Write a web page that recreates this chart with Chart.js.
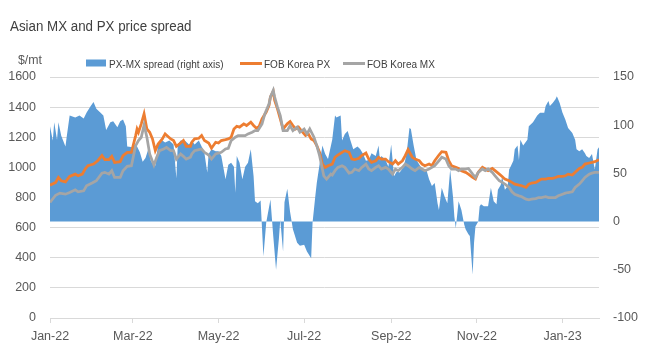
<!DOCTYPE html>
<html>
<head>
<meta charset="utf-8">
<script src="https://cdn.jsdelivr.net/npm/chart.js@4.4.0/dist/chart.umd.min.js"></script>
<style>
  html, body { margin: 0; padding: 0; background: #fff; }
</style>
</head>
<body>
<canvas id="myChart" width="652" height="353"></canvas>
<script>
// all x values are days counted from 1 Jan 2022
const tickDays = [0, 59, 120, 181, 243, 304, 365];
const tickLabels = ['Jan-22', 'Mar-22', 'May-22', 'Jul-22', 'Sep-22', 'Nov-22', 'Jan-23'];

// PX-MX spread, $/mt (right axis)
const spreadDays = [0, 2, 3, 5, 6, 8, 11, 12, 14, 18, 21, 24, 26, 29, 31, 33, 36, 38, 40, 43, 45, 48, 50, 52, 54, 55, 59,
  60, 62, 64, 66, 68, 70, 72, 75, 77, 80, 82, 85, 88, 90, 91, 93, 96, 99, 101, 103, 106, 108, 110, 112, 113, 115, 118,
  120, 122, 125, 127, 129, 131, 132, 133, 135, 137, 139, 141, 143, 145, 146, 148, 150, 152, 154, 157, 159, 161, 163,
  164, 166, 167, 169, 171, 173, 176, 178, 181, 183, 186, 187, 189, 190, 194, 196, 198, 201, 203, 204, 207, 208, 210,
  212, 214, 216, 219, 221, 223, 225, 227, 229, 232, 234, 235, 236, 239, 241, 243, 245, 247, 249, 252, 254, 256, 257,
  259, 261, 264, 266, 268, 270, 272, 274, 276, 277, 279, 281, 283, 285, 287, 288, 289, 291, 293, 295, 296, 298, 299,
  301, 302, 303, 305, 306, 307, 309, 312, 314, 315, 316, 318, 319, 321, 322, 324, 326, 327, 328, 330, 331, 333, 334,
  335, 337, 340, 341, 344, 347, 349, 352, 353, 355, 356, 358, 360, 361, 363, 365, 367, 369, 372, 374, 375, 377, 379,
  381, 382, 384, 386, 388, 390, 391];
const spreadValues = [99, 84, 103, 85, 103, 89, 78, 89, 110, 108, 110, 107, 113, 120, 124, 117, 113, 110, 95, 103, 104, 98, 104, 106, 99, 78, 77,
  80, 78, 72, 62, 66, 75, 62, 58, 80, 84, 82, 84, 80, 45, 80, 84, 84, 80, 84, 80, 84, 78, 71, 51, 70, 75, 73,
  73, 68, 44, 59, 61, 57, 30, 68, 61, 44, 57, 61, 75, 47, 21, 19, 22, -36, -1, 23, -15, -50, -18,
  2, -31, 20, 34, 10, -8, -22, -25, -24, -31, -38, -1, 27, 40, 79, 70, 65, 85, 110, 108, 110, 84, 91,
  94, 84, 75, 78, 75, 70, 63, 64, 71, 68, 79, 63, 68, 64, 57, 80, 47, 52, 51, 57, 71, 97, 96,
  79, 64, 57, 54, 54, 44, 37, 40, 19, 12, 35, 26, 19, 54, 26, 5, -7, 21, 12, -3, -8, -13, -15,
  -55, -22, -5, 0, 16, 18, 16, 16, 35, 28, 21, 18, 33, 38, 47, 33, 37, 54, 57, 63, 75, 79, 64,
  85, 79, 85, 99, 103, 110, 113, 113, 120, 125, 120, 123, 127, 130, 123, 113, 106, 97, 92, 85, 75, 73, 75,
  71, 68, 66, 70, 54, 75, 77];

// FOB Korea PX, $/mt
const pxDays = [0, 4, 6, 8, 11, 14, 18, 20, 23, 25, 27, 31, 34, 37, 39, 42, 44, 46, 50, 52, 55, 58, 61, 62, 63, 65, 67,
  69, 71, 73, 75, 77, 80, 82, 86, 88, 90, 93, 95, 97, 100, 101, 103, 106, 108, 110, 113, 115, 118, 120, 122, 125,
  127, 129, 131, 133, 135, 138, 140, 143, 145, 147, 149, 151, 154, 156, 157, 159, 160, 162, 164, 166, 169, 171,
  173, 175, 177, 179, 182, 184, 186, 188, 190, 192, 194, 196, 198, 201, 203, 205, 208, 210, 213, 215, 217, 220,
  222, 225, 227, 229, 232, 234, 236, 239, 241, 244, 246, 248, 251, 253, 255, 258, 260, 263, 265, 267, 270, 272,
  274, 277, 279, 282, 284, 286, 289, 291, 293, 296, 298, 301, 303, 305, 308, 310, 312, 315, 317, 320, 322, 324,
  327, 329, 331, 334, 336, 339, 341, 343, 346, 348, 350, 353, 355, 358, 360, 362, 365, 367, 369, 372, 374, 377,
  379, 381, 384, 386, 388, 391];
const pxPrice = [882, 900, 933, 911, 904, 940, 955, 944, 955, 989, 1011, 1022, 1044, 1078, 1051, 1051, 1073, 1033, 1038, 1078, 1100, 1100, 1211, 1255, 1233, 1289, 1355,
  1255, 1233, 1189, 1111, 1155, 1189, 1222, 1189, 1178, 1140, 1162, 1178, 1140, 1140, 1167, 1189, 1193, 1211, 1178, 1162, 1127, 1167, 1162, 1178, 1184,
  1189, 1200, 1255, 1273, 1267, 1289, 1278, 1300, 1278, 1260, 1273, 1322, 1367, 1411, 1467, 1504, 1444, 1389, 1322, 1255, 1289, 1304,
  1278, 1255, 1267, 1244, 1211, 1222, 1189, 1178, 1144, 1100, 1022, 1000, 1011, 1022, 1067, 1082, 1100, 1111, 1100, 1055, 1051, 1060,
  1078, 1095, 1055, 1033, 1044, 1067, 1055, 1055, 1038, 1022, 1044, 1022, 1044, 1078, 1118, 1067, 1055, 1044, 1022, 1011, 1022, 1011,
  1044, 1082, 1104, 1100, 1044, 1011, 1000, 993, 978, 967, 955, 933, 922, 967, 1000, 989, 978, 993, 978, 955, 940, 922,
  911, 900, 889, 882, 878, 867, 889, 896, 900, 911, 922, 922, 927, 927, 933, 940, 940, 944, 955, 949, 967, 993,
  1000, 1022, 1029, 1033, 1038, 1051];

// FOB Korea MX, $/mt
const mxDays = [0, 4, 7, 11, 14, 18, 20, 24, 26, 30, 33, 37, 39, 42, 44, 46, 50, 52, 55, 58, 61, 63, 65, 67, 69, 71, 74,
  76, 78, 81, 83, 86, 88, 90, 93, 95, 97, 100, 101, 103, 106, 108, 110, 113, 115, 118, 120, 122, 125, 127, 129, 132,
  134, 137, 139, 141, 144, 146, 148, 151, 153, 156, 157, 159, 160, 162, 164, 166, 169, 171, 173, 176, 178, 181,
  183, 185, 188, 190, 192, 195, 197, 200, 201, 203, 205, 208, 210, 213, 215, 217, 220, 222, 225, 227, 229, 232,
  234, 236, 239, 241, 244, 246, 248, 251, 253, 255, 258, 260, 263, 265, 267, 270, 272, 274, 277, 279, 282, 284,
  286, 289, 291, 293, 296, 298, 301, 303, 305, 308, 310, 312, 315, 317, 320, 322, 324, 327, 329, 331, 334, 336,
  339, 341, 343, 346, 348, 350, 353, 355, 358, 360, 362, 365, 367, 369, 372, 374, 377, 379, 381, 384, 386, 388, 391];
const mxPrice = [767, 815, 829, 822, 833, 851, 838, 844, 878, 896, 911, 962, 967, 955, 978, 933, 933, 978, 1007, 1011, 1144, 1178, 1200, 1282, 1200, 1089, 1015,
  1067, 1111, 1122, 1133, 1111, 1111, 1055, 1089, 1073, 1055, 1067, 1089, 1111, 1118, 1122, 1100, 1082, 1055, 1089, 1095, 1100, 1122, 1127, 1178, 1200,
  1211, 1211, 1211, 1222, 1233, 1244, 1244, 1289, 1355, 1422, 1467, 1511, 1467, 1400, 1344, 1244, 1244, 1278, 1244, 1267, 1233, 1255,
  1222, 1255, 1200, 1144, 1078, 944, 922, 955, 949, 978, 1000, 1011, 1000, 962, 967, 989, 978, 1000, 1022, 989, 978, 1000,
  1011, 989, 1000, 989, 955, 989, 978, 1000, 1022, 1011, 989, 978, 1000, 989, 978, 989, 1000, 1011, 1044, 1067, 1055, 1011,
  989, 989, 978, 989, 989, 993, 955, 933, 967, 989, 978, 989, 967, 944, 911, 900, 889, 867, 838, 822, 811, 805,
  789, 784, 789, 793, 800, 800, 805, 800, 800, 800, 811, 822, 829, 833, 838, 867, 889, 911, 933, 955, 962, 967, 967];

const titleText = 'Asian MX and PX price spread';
const unitText = '$/mt';

function toPoints(days, values) {
    return days.map((d, i) => ({ x: d, y: values[i] }));
}

const FONT = '"Liberation Sans", Arial, sans-serif';

// the original uses a narrow font, so squeeze the header text a bit
function narrowText(c, text, x, y, size, squeeze) {
    c.save();
    c.font = size + 'px ' + FONT;
    c.translate(x, y);
    c.scale(squeeze, 1);
    c.fillText(text, 0, 0);
    c.restore();
}

// title, unit label and legend drawn on top of the chart
const headerPlugin = {
    id: 'header',
    afterDraw(chart) {
        const c = chart.ctx;
        c.save();
        c.textBaseline = 'alphabetic';
        c.fillStyle = '#404040';
        narrowText(c, titleText, 10, 31, 15.5, 0.86);

        c.fillStyle = '#595959';
        narrowText(c, unitText, 18, 64, 13, 0.95);

        const items = [
            { x: 86, kind: 'box', ds: chart.data.datasets[0] },
            { x: 240, kind: 'line', ds: chart.data.datasets[1] },
            { x: 343, kind: 'line', ds: chart.data.datasets[2] }
        ];
        items.forEach(it => {
            if (it.kind === 'box') {
                c.fillStyle = it.ds.backgroundColor;
                c.fillRect(it.x, 59.5, 20, 7);
            } else {
                c.strokeStyle = it.ds.borderColor;
                c.lineWidth = 3;
                c.beginPath();
                c.moveTo(it.x, 63.5);
                c.lineTo(it.x + 22, 63.5);
                c.stroke();
            }
            c.fillStyle = '#404040';
            narrowText(c, it.ds.label, it.x + (it.kind === 'box' ? 23 : 24), 67.5, 11.5, 0.87);
        });
        c.restore();
    }
};

let ctx = document.getElementById('myChart');

var myChart = new Chart(ctx, {
    type: 'line',
    data: {
        datasets: [
            {
                label: 'PX-MX spread (right axis)',
                data: toPoints(spreadDays, spreadValues),
                yAxisID: 'y1',
                backgroundColor: '#5B9BD5',
                borderWidth: 0,
                pointRadius: 0,
                fill: 'origin',
                tension: 0,
                order: 3
            },
            {
                label: 'FOB Korea PX',
                data: toPoints(pxDays, pxPrice),
                yAxisID: 'y',
                borderColor: '#ED7D31',
                borderWidth: 2.75,
                pointRadius: 0,
                fill: false,
                tension: 0,
                order: 2
            },
            {
                label: 'FOB Korea MX',
                data: toPoints(mxDays, mxPrice),
                yAxisID: 'y',
                borderColor: '#A5A5A5',
                borderWidth: 2.75,
                pointRadius: 0,
                fill: false,
                tension: 0,
                order: 1
            }
        ]
    },
    options: {
        responsive: false,
        animation: false,
        layout: { padding: { top: 77, left: 0, right: 0, bottom: 0 } },
        plugins: {
            legend: { display: false },
            title: { display: false },
            tooltip: { enabled: false }
        },
        scales: {
            x: {
                type: 'linear',
                min: 0,
                max: 391,
                afterBuildTicks: scale => { scale.ticks = tickDays.map(v => ({ value: v })); },
                afterFit: scale => { scale.height = 35; },
                grid: { drawOnChartArea: false, drawTicks: true, tickLength: 5, color: '#D9D9D9' },
                border: { color: '#D9D9D9' },
                ticks: {
                    autoSkip: false,
                    maxRotation: 0,
                    padding: 6,
                    color: '#595959',
                    font: { family: FONT, size: 12.5 },
                    callback: v => {
                        const i = tickDays.indexOf(v);
                        return i >= 0 ? tickLabels[i] : '';
                    }
                }
            },
            y: {
                position: 'left',
                min: 0,
                max: 1600,
                afterFit: scale => { scale.width = 50; },
                grid: { color: '#D9D9D9', drawTicks: false },
                border: { display: false },
                ticks: {
                    stepSize: 200,
                    padding: 14,
                    color: '#595959',
                    font: { family: FONT, size: 12.5 },
                    callback: v => String(v)
                }
            },
            y1: {
                position: 'right',
                min: -100,
                max: 150,
                afterFit: scale => { scale.width = 53; },
                grid: { display: false, drawTicks: false },
                border: { display: false },
                ticks: {
                    stepSize: 50,
                    padding: 14,
                    color: '#595959',
                    font: { family: FONT, size: 12.5 },
                    callback: v => String(v)
                }
            }
        }
    },
    plugins: [headerPlugin]
});
</script>
</body>
</html>
